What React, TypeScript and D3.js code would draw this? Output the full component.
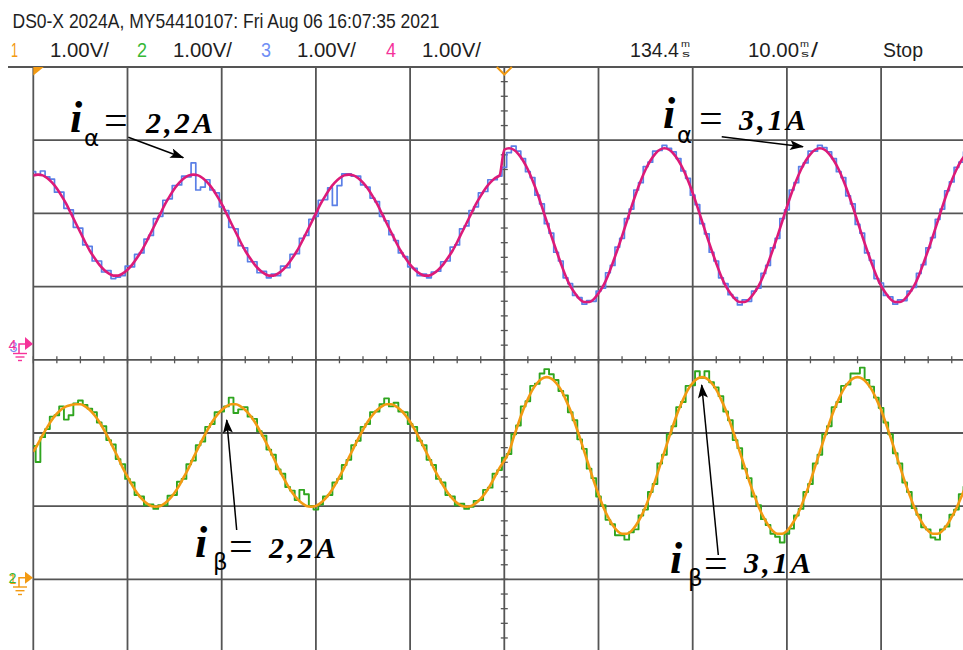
import React from 'react';
import * as d3 from 'd3';

// ---- Scope settings ----
const SAMPLE_MS = 0.5; // sample spacing of the traces, ms
const TIME_PER_DIV_MS = 10;
const VOLTS_PER_DIV = 1;
const headerTitle = 'DS0-X 2024A, MY54410107: Fri Aug 06 16:07:35 2021';
const channelIds = ['1', '2', '3', '4'];
const channelScales = ['1.00V/', '1.00V/', '1.00V/', '1.00V/'];
const delayText = '134.4';
const timebaseText = '10.00';
const runText = 'Stop';
const annotationNames = ['α', 'α', 'β', 'β'];
const annotationValues = ['2,2A', '3,1A', '2,2A', '3,1A'];

// ---- Channel 4 (magenta): i_alpha reference, volts ----
const alphaRef = [
  2.29, 2.30, 2.29, 2.25, 2.19, 2.11, 2.01, 1.90, 1.77, 1.64,
  1.51, 1.38, 1.26, 1.16, 1.07, 1.00, 0.95, 0.92, 0.92, 0.95,
  1.00, 1.07, 1.16, 1.26, 1.38, 1.51, 1.64, 1.77, 1.90, 2.01,
  2.11, 2.19, 2.25, 2.29, 2.30, 2.29, 2.25, 2.19, 2.11, 2.01,
  1.90, 1.77, 1.64, 1.51, 1.38, 1.26, 1.16, 1.07, 1.00, 0.95,
  0.92, 0.92, 0.95, 1.00, 1.07, 1.16, 1.26, 1.38, 1.51, 1.64,
  1.77, 1.90, 2.01, 2.11, 2.19, 2.25, 2.29, 2.30, 2.29, 2.25,
  2.19, 2.11, 2.01, 1.90, 1.77, 1.64, 1.51, 1.38, 1.26, 1.16,
  1.07, 1.00, 0.95, 0.92, 0.92, 0.95, 1.00, 1.07, 1.16, 1.26,
  1.38, 1.51, 1.64, 1.77, 1.90, 2.01, 2.11, 2.19, 2.25, 2.29,
  2.64, 2.66, 2.64, 2.58, 2.49, 2.37, 2.22, 2.05, 1.86, 1.66,
  1.46, 1.27, 1.09, 0.92, 0.78, 0.68, 0.60, 0.56, 0.56, 0.60,
  0.68, 0.78, 0.92, 1.09, 1.27, 1.46, 1.66, 1.86, 2.05, 2.22,
  2.37, 2.49, 2.58, 2.64, 2.66, 2.64, 2.58, 2.49, 2.37, 2.22,
  2.05, 1.86, 1.66, 1.46, 1.27, 1.09, 0.92, 0.78, 0.68, 0.60,
  0.56, 0.56, 0.60, 0.68, 0.78, 0.92, 1.09, 1.27, 1.46, 1.66,
  1.86, 2.05, 2.22, 2.37, 2.49, 2.58, 2.64, 2.66, 2.64, 2.58,
  2.49, 2.37, 2.22, 2.05, 1.86, 1.66, 1.46, 1.27, 1.09, 0.92,
  0.78, 0.68, 0.60, 0.56, 0.56, 0.60, 0.68, 0.78, 0.92, 1.09,
  1.27, 1.46, 1.66, 1.86, 2.05, 2.22, 2.37, 2.49, 2.58,
];

// ---- Channel 3 (blue): i_alpha measured, volts ----
const alphaMeas = [
  2.34, 2.30, 2.35, 2.27, 2.24, 2.06, 2.06, 1.84, 1.82, 1.58,
  1.57, 1.34, 1.32, 1.12, 1.12, 0.97, 0.99, 0.88, 0.90, 0.92,
  1.05, 1.04, 1.21, 1.23, 1.42, 1.47, 1.70, 1.73, 1.95, 1.97,
  2.15, 2.16, 2.28, 2.27, 2.46, 2.09, 2.13, 2.23, 2.09, 2.05,
  1.86, 1.81, 1.58, 1.56, 1.33, 1.30, 1.11, 1.11, 0.96, 0.98,
  0.89, 0.94, 0.92, 1.05, 1.03, 1.21, 1.22, 1.43, 1.47, 1.69,
  1.73, 1.95, 1.96, 2.12, 1.88, 2.15, 2.31, 2.31, 2.28, 2.28,
  2.16, 2.13, 1.98, 1.93, 1.73, 1.67, 1.48, 1.40, 1.23, 1.18,
  1.04, 1.02, 0.92, 0.94, 0.89, 0.97, 0.98, 1.11, 1.12, 1.31,
  1.34, 1.56, 1.60, 1.81, 1.86, 2.05, 2.07, 2.23, 2.23, 2.28,
  2.40, 2.60, 2.69, 2.62, 2.52, 2.34, 2.26, 2.02, 1.90, 1.63,
  1.50, 1.24, 1.12, 0.89, 0.81, 0.65, 0.62, 0.53, 0.58, 0.57,
  0.71, 0.75, 0.96, 1.06, 1.31, 1.43, 1.70, 1.83, 2.09, 2.19,
  2.41, 2.47, 2.62, 2.63, 2.70, 2.66, 2.61, 2.52, 2.35, 2.25,
  2.02, 1.89, 1.63, 1.49, 1.24, 1.12, 0.89, 0.81, 0.66, 0.62,
  0.52, 0.59, 0.57, 0.71, 0.75, 0.95, 1.06, 1.30, 1.43, 1.70,
  1.82, 2.09, 2.19, 2.41, 2.46, 2.62, 2.62, 2.70, 2.67, 2.61,
  2.52, 2.34, 2.26, 2.01, 1.90, 1.62, 1.50, 1.23, 1.13, 0.88,
  0.82, 0.65, 0.63, 0.53, 0.59, 0.58, 0.71, 0.76, 0.95, 1.07,
  1.30, 1.44, 1.69, 1.83, 2.08, 2.20, 2.40, 2.47, 2.61,
];

// ---- Channel 1 (orange): i_beta reference, volts ----
const betaRef = [
  1.72, 1.83, 1.95, 2.06, 2.16, 2.24, 2.30, 2.34, 2.36, 2.37,
  2.37, 2.34, 2.29, 2.22, 2.13, 2.02, 1.90, 1.77, 1.64, 1.50,
  1.38, 1.26, 1.16, 1.08, 1.02, 0.98, 0.97, 0.98, 1.02, 1.08,
  1.16, 1.26, 1.38, 1.50, 1.64, 1.77, 1.90, 2.02, 2.13, 2.22,
  2.29, 2.34, 2.37, 2.37, 2.34, 2.29, 2.22, 2.13, 2.02, 1.90,
  1.77, 1.64, 1.50, 1.38, 1.26, 1.16, 1.08, 1.02, 0.98, 0.97,
  0.98, 1.02, 1.08, 1.16, 1.26, 1.38, 1.50, 1.64, 1.77, 1.90,
  2.02, 2.13, 2.22, 2.29, 2.34, 2.37, 2.37, 2.34, 2.29, 2.22,
  2.13, 2.02, 1.90, 1.77, 1.64, 1.50, 1.38, 1.26, 1.16, 1.08,
  1.02, 0.98, 0.97, 0.98, 1.02, 1.08, 1.16, 1.26, 1.38, 1.50,
  1.60, 1.72, 1.92, 2.11, 2.29, 2.44, 2.57, 2.66, 2.72, 2.74,
  2.72, 2.66, 2.57, 2.44, 2.29, 2.11, 1.92, 1.72, 1.52, 1.32,
  1.14, 0.97, 0.83, 0.72, 0.64, 0.60, 0.60, 0.64, 0.72, 0.83,
  0.97, 1.14, 1.32, 1.52, 1.72, 1.92, 2.11, 2.29, 2.44, 2.57,
  2.66, 2.72, 2.74, 2.72, 2.66, 2.57, 2.44, 2.29, 2.11, 1.92,
  1.72, 1.52, 1.32, 1.14, 0.97, 0.83, 0.72, 0.64, 0.60, 0.60,
  0.64, 0.72, 0.83, 0.97, 1.14, 1.32, 1.52, 1.72, 1.92, 2.11,
  2.29, 2.44, 2.57, 2.66, 2.72, 2.74, 2.72, 2.66, 2.57, 2.44,
  2.29, 2.11, 1.92, 1.72, 1.52, 1.32, 1.14, 0.97, 0.83, 0.72,
  0.64, 0.60, 0.60, 0.64, 0.72, 0.83, 0.95, 1.10, 1.26,
];

// ---- Channel 2 (green): i_beta measured, volts ----
const betaMeas = [
  1.80, 1.58, 1.92, 2.03, 2.20, 2.22, 2.34, 2.16, 2.22, 2.38,
  2.42, 2.36, 2.31, 2.26, 2.12, 2.07, 1.88, 1.82, 1.62, 1.55,
  1.35, 1.30, 1.13, 1.11, 0.99, 1.00, 0.94, 0.99, 0.99, 1.12,
  1.13, 1.31, 1.35, 1.55, 1.60, 1.81, 1.86, 2.06, 2.10, 2.26,
  2.27, 2.34, 2.46, 2.25, 2.30, 2.33, 2.20, 2.17, 2.00, 1.94,
  1.75, 1.68, 1.48, 1.42, 1.24, 1.19, 1.06, 1.20, 1.14, 0.98,
  0.93, 1.00, 1.11, 1.13, 1.30, 1.35, 1.54, 1.61, 1.81, 1.87,
  2.06, 2.10, 2.26, 2.27, 2.37, 2.45, 2.34, 2.39, 2.27, 2.26,
  2.10, 2.06, 1.87, 1.81, 1.61, 1.54, 1.35, 1.30, 1.13, 1.11,
  0.99, 1.01, 0.94, 0.97, 1.05, 1.06, 1.20, 1.23, 1.42, 1.47,
  1.64, 1.69, 1.96, 2.08, 2.34, 2.41, 2.62, 2.65, 2.79, 2.85,
  2.78, 2.70, 2.55, 2.49, 2.26, 2.15, 1.89, 1.76, 1.49, 1.36,
  1.11, 0.99, 0.79, 0.73, 0.58, 0.58, 0.52, 0.62, 0.66, 0.85,
  0.93, 1.17, 1.28, 1.56, 1.68, 1.96, 2.07, 2.33, 2.40, 2.62,
  2.63, 2.82, 2.73, 2.82, 2.67, 2.60, 2.48, 2.27, 2.15, 1.88,
  1.77, 1.49, 1.36, 1.11, 0.99, 0.80, 0.72, 0.60, 0.56, 0.48,
  0.60, 0.67, 0.85, 0.94, 1.17, 1.28, 1.56, 1.68, 1.96, 2.07,
  2.33, 2.40, 2.62, 2.64, 2.79, 2.79, 2.87, 2.70, 2.61, 2.46,
  2.32, 2.12, 1.96, 1.70, 1.56, 1.30, 1.17, 0.95, 0.86, 0.69,
  0.66, 0.55, 0.52, 0.66, 0.70, 0.86, 0.93, 1.14, 1.24,
];

const W = 963;
const H = 650;
const X0 = 33.3;
const DX = 94.2;
const Y0 = 67;
const DY = 73.2;
const GND34 = 343;
const GND12 = 577.7;

const C_ORANGE = '#f39a12';
const C_GREEN = '#2fa51f';
const C_BLUE = '#5a7fe6';
const C_MAGENTA = '#dd1a78';
const C_GRID = '#555555';

const xDiv = d3.scaleLinear().domain([0, 10]).range([X0, X0 + 10 * DX]);
const yDiv = d3.scaleLinear().domain([0, 8]).range([Y0, Y0 + 8 * DY]);
const xTime = d3.scaleLinear().domain([0, 10 * TIME_PER_DIV_MS]).range([X0, X0 + 10 * DX]);
const y34 = d3.scaleLinear().domain([0, VOLTS_PER_DIV]).range([GND34, GND34 - DY]);
const y12 = d3.scaleLinear().domain([0, VOLTS_PER_DIV]).range([GND12, GND12 - DY]);

function tracePath(vals: number[], yScale: d3.ScaleLinear<number, number>, curve: d3.CurveFactory) {
  return d3
    .line<number>()
    .x((_, i) => xTime(i * SAMPLE_MS))
    .y((v) => yScale(v))
    .curve(curve)(vals) as string;
}

const headerFont = '"Liberation Sans", Arial, sans-serif';
const mathFont = '"Liberation Serif", "Times New Roman", serif';

function MsUnit({ x }: { x: number }) {
  return (
    <g fontFamily={headerFont} fontSize={8.5} fill="#222">
      <text x={x} y={47} textLength={9} lengthAdjust="spacingAndGlyphs">m</text>
      <text x={x + 1} y={57.2} textLength={8} lengthAdjust="spacingAndGlyphs">s</text>
    </g>
  );
}

type Ann = {
  ix: number; iy: number; sx: number; sy: number; ex: number; ey: number;
  vx: number; vy: number; arrow: [number, number, number, number];
};

const annLayout: Ann[] = [
  { ix: 70, iy: 132, sx: 84, sy: 146, ex: 104, ey: 134, vx: 146, vy: 133, arrow: [128.3, 137.3, 183.3, 157.7] },
  { ix: 663, iy: 128, sx: 677, sy: 143, ex: 699, ey: 132, vx: 739, vy: 130, arrow: [721.7, 136.7, 803, 146.7] },
  { ix: 195, iy: 557, sx: 213, sy: 570, ex: 229, ey: 560, vx: 269, vy: 558, arrow: [236.7, 530, 226.7, 420] },
  { ix: 670, iy: 573, sx: 688, sy: 586, ex: 704, ey: 577, vx: 744, vy: 573, arrow: [718.3, 555, 701.7, 385] },
];

export default function App() {
  const vTicks = d3.range(0, 11);
  const hTicks = d3.range(0, 9);
  const minorX = d3.range(0, 41).map((i) => i / 4);
  const minorY = d3.range(0, 41).map((i) => i / 5);
  const cy = yDiv(4);
  const cx = xDiv(5);

  const chColors = [C_ORANGE, '#36b836', '#6f8ff5', '#f5339a'];
  const chIdX = [11, 137, 261, 386];
  const chScaleX = [50, 173, 297, 422];

  return (
    <svg
      width={W}
      height={H}
      viewBox={`0 0 ${W} ${H}`}
      style={{ position: 'fixed', left: 0, top: 0, display: 'block' }}
    >
      <defs>
        <clipPath id="plot">
          <rect x={X0} y={Y0} width={W - X0} height={H - Y0} />
        </clipPath>
        <marker id="ah" viewBox="0 0 14 10" refX="13" refY="5" markerWidth="15" markerHeight="10"
          markerUnits="userSpaceOnUse" orient="auto">
          <path d="M0,0 L14,5 L0,10 L3,5 Z" fill="#000" />
        </marker>
      </defs>
      <rect x={0} y={0} width={W} height={H} fill="#fff" />

      {/* Header */}
      <text x={12.5} y={28.3} fontFamily={headerFont} fontSize={21} fill="#1e1e1e"
        textLength={427} lengthAdjust="spacingAndGlyphs">{headerTitle}</text>
      {channelIds.map((id, i) => (
        <g key={id}>
          <text x={chIdX[i]} y={56.7} fontFamily={headerFont} fontSize={20.5} fill={chColors[i]}
            textLength={i === 0 ? 7 : 10} lengthAdjust="spacingAndGlyphs">{id}</text>
          <text x={chScaleX[i]} y={56.7} fontFamily={headerFont} fontSize={20.5} fill="#1e1e1e"
            textLength={59} lengthAdjust="spacingAndGlyphs">{channelScales[i]}</text>
        </g>
      ))}
      <text x={630} y={56.7} fontFamily={headerFont} fontSize={20.5} fill="#1e1e1e"
        textLength={49} lengthAdjust="spacingAndGlyphs">{delayText}</text>
      <MsUnit x={681} />
      <text x={748} y={56.7} fontFamily={headerFont} fontSize={20.5} fill="#1e1e1e"
        textLength={51} lengthAdjust="spacingAndGlyphs">{timebaseText}</text>
      <MsUnit x={800} />
      <text x={811} y={56.7} fontFamily={headerFont} fontSize={20.5} fill="#1e1e1e"
        textLength={7} lengthAdjust="spacingAndGlyphs">/</text>
      <text x={883} y={56.7} fontFamily={headerFont} fontSize={20.5} fill="#1e1e1e"
        textLength={40} lengthAdjust="spacingAndGlyphs">{runText}</text>

      {/* Grid */}
      <g stroke={C_GRID} strokeWidth={1.8}>
        {vTicks.map((i) => (
          <line key={'v' + i} x1={xDiv(i)} x2={xDiv(i)} y1={Y0} y2={H} />
        ))}
        {hTicks.map((j) => (
          <line key={'h' + j} x1={j === 0 ? 8 : X0} x2={W} y1={yDiv(j)} y2={yDiv(j)} />
        ))}
      </g>
      <g stroke={C_GRID} strokeWidth={1.3}>
        {minorX.map((d, i) => (
          <line key={'mx' + i} x1={xDiv(d)} x2={xDiv(d)} y1={cy - 3.5} y2={cy + 3.5} />
        ))}
        {minorY.map((d, i) => (
          <line key={'my' + i} x1={cx - 3.5} x2={cx + 3.5} y1={yDiv(d)} y2={yDiv(d)} />
        ))}
      </g>

      {/* Traces */}
      <g clipPath="url(#plot)" fill="none" strokeLinejoin="round">
        <path d={tracePath(alphaMeas, y34, d3.curveStep)} stroke={C_BLUE} strokeWidth={1.7} />
        <path d={tracePath(alphaRef, y34, d3.curveMonotoneX)} stroke={C_MAGENTA} strokeWidth={2.6} />
        <path d={tracePath(betaMeas, y12, d3.curveStep)} stroke={C_GREEN} strokeWidth={1.9} />
        <path d={tracePath(betaRef, y12, d3.curveMonotoneX)} stroke={C_ORANGE} strokeWidth={2.6} />
      </g>

      {/* Trigger / position markers */}
      <path d={`M${X0},${Y0} L${X0 + 10.5},${Y0} L${X0},${Y0 + 8.5} Z`} fill={C_ORANGE} />
      <path d={`M${cx - 7.5},${Y0} L${cx},${Y0 + 7.5} L${cx + 7.5},${Y0}`} fill="none" stroke={C_ORANGE} strokeWidth={2} />

      {/* Ground marker ch3/ch4 */}
      <g>
        <text x={9.5} y={351.5} fontFamily={headerFont} fontSize={14} fill="#7a8cf0" textLength={8} lengthAdjust="spacingAndGlyphs">3</text>
        <text x={8.5} y={350} fontFamily={headerFont} fontSize={14} fill="#f5339a" textLength={8} lengthAdjust="spacingAndGlyphs">4</text>
        <path d={`M19,353.5 V${GND34 + 1} H25`} fill="none" stroke="#f5339a" strokeWidth={1.5} />
        <path d={`M25,${GND34 - 6} L33,${GND34 + 1} L25,${GND34 + 7} Z`} fill="#f5339a" />
        <g stroke="#f5339a" strokeWidth={1.4}>
          <line x1={13} x2={27} y1={353.5} y2={353.5} />
          <line x1={15.5} x2={24.5} y1={357} y2={357} />
          <line x1={18} x2={22} y1={360.5} y2={360.5} />
        </g>
      </g>
      {/* Ground marker ch1/ch2 */}
      <g>
        <text x={9.5} y={584} fontFamily={headerFont} fontSize={14} fill={C_ORANGE} textLength={7} lengthAdjust="spacingAndGlyphs">1</text>
        <text x={8.5} y={583} fontFamily={headerFont} fontSize={14} fill="#36b836" textLength={8} lengthAdjust="spacingAndGlyphs">2</text>
        <path d={`M19,587 V${GND12} H25`} fill="none" stroke={C_ORANGE} strokeWidth={1.5} />
        <path d={`M25,${GND12 - 6} L33,${GND12} L25,${GND12 + 6} Z`} fill={C_ORANGE} />
        <g stroke={C_ORANGE} strokeWidth={1.4}>
          <line x1={13} x2={27} y1={587} y2={587} />
          <line x1={15.5} x2={24.5} y1={590.7} y2={590.7} />
          <line x1={18} x2={22} y1={594.5} y2={594.5} />
        </g>
      </g>

      {/* Annotations */}
      {annLayout.map((a, k) => (
        <g key={'ann' + k}>
          <line x1={a.arrow[0]} y1={a.arrow[1]} x2={a.arrow[2]} y2={a.arrow[3]} stroke="#000" strokeWidth={1.5} markerEnd="url(#ah)" />
          <text x={a.ix} y={a.iy} fontFamily={mathFont} fontWeight="bold" fontStyle="italic" fontSize={44} fill="#000">i</text>
          <text x={a.sx} y={a.sy} fontFamily='"DejaVu Sans", sans-serif' fontSize={23} fill="#000">{annotationNames[k]}</text>
          <text x={a.ex} y={a.ey} fontFamily={mathFont} fontSize={42} fill="#000">=</text>
          <text x={a.vx} y={a.vy} fontFamily={mathFont} fontWeight="bold" fontStyle="italic" fontSize={30} fill="#000"
            textLength={67} lengthAdjust="spacing">{annotationValues[k]}</text>
        </g>
      ))}
    </svg>
  );
}
